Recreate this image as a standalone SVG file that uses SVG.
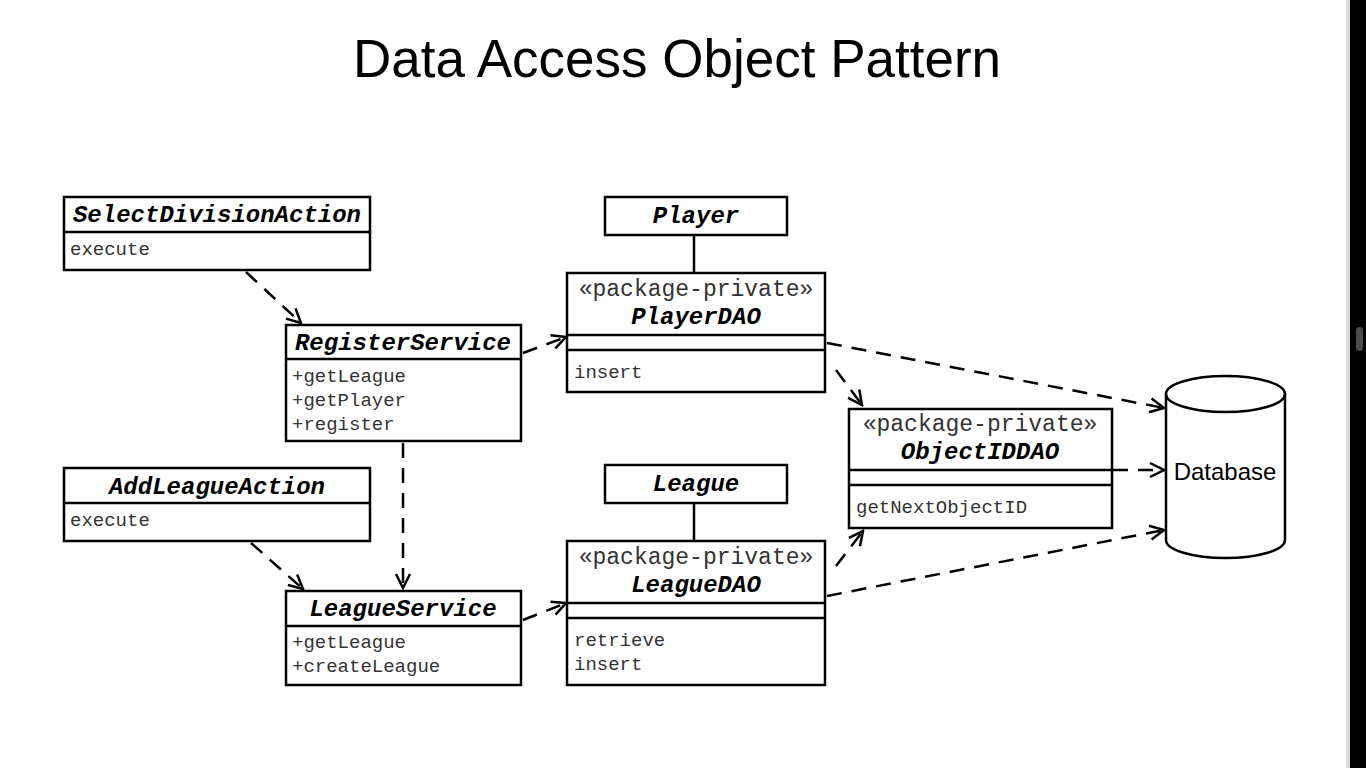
<svg xmlns="http://www.w3.org/2000/svg" width="1366" height="768" viewBox="0 0 1366 768">
<style>
.box{fill:#fff;stroke:#000;stroke-width:2.5}
.ln{stroke:#000;stroke-width:2.5;fill:none}
.t{font-family:"Liberation Mono",monospace;font-size:24px;font-weight:bold;font-style:italic;text-anchor:middle;fill:#000}
.st{font-family:"Liberation Mono",monospace;font-size:23px;text-anchor:middle;fill:#333}
.m{font-family:"Liberation Mono",monospace;font-size:19px;fill:#333}
.dash{stroke:#000;stroke-width:2.5;fill:none;stroke-dasharray:15 10;marker-end:url(#arr)}
</style>
<defs>
<marker id="arr" viewBox="-16 -9 18 18" markerWidth="18" markerHeight="18" refX="0" refY="0" orient="auto" markerUnits="userSpaceOnUse">
<path d="M-14,-7 L0,0 L-14,7" fill="none" stroke="#000" stroke-width="2.5"/>
</marker>
</defs>
<rect width="1366" height="768" fill="#fff"/>
<text x="677" y="77" font-family="Liberation Sans, Arial, sans-serif" font-size="53" text-anchor="middle" fill="#000">Data Access Object Pattern</text>

<g id="connectors">
<path class="dash" d="M246,272 L301,323"/>
<path class="dash" d="M523,353 L566,337"/>
<path class="dash" d="M403,443 L403,588"/>
<path class="dash" d="M251,543 L303,589"/>
<path class="dash" d="M523,620 L566,603"/>
<path class="dash" d="M827,343 L1164,408"/>
<path class="dash" d="M836,370 L862,405"/>
<path class="dash" d="M1113,470 L1164,470"/>
<path class="dash" d="M836,566 L863,531"/>
<path class="dash" d="M827,596 L1164,530"/>
<line class="ln" x1="694" y1="235" x2="694" y2="273"/>
<line class="ln" x1="694" y1="503" x2="694" y2="541"/>
</g>

<g id="SelectDivisionAction">
<rect class="box" x="64" y="197" width="306" height="73"/>
<line class="ln" x1="64" y1="232" x2="370" y2="232"/>
<text class="t" x="217" y="222">SelectDivisionAction</text>
<text class="m" x="70" y="255">execute</text>
</g>

<g id="RegisterService">
<rect class="box" x="286" y="325" width="235" height="116"/>
<line class="ln" x1="286" y1="359" x2="521" y2="359"/>
<text class="t" x="403" y="350">RegisterService</text>
<text class="m" x="292" y="382">+getLeague</text>
<text class="m" x="292" y="406">+getPlayer</text>
<text class="m" x="292" y="430">+register</text>
</g>

<g id="Player">
<rect class="box" x="605" y="197" width="182" height="38"/>
<text class="t" x="696" y="223">Player</text>
</g>

<g id="PlayerDAO">
<rect class="box" x="567" y="273" width="258" height="119"/>
<line class="ln" x1="567" y1="335" x2="825" y2="335"/>
<line class="ln" x1="567" y1="350" x2="825" y2="350"/>
<text class="st" x="696" y="296">«package-private»</text>
<text class="t" x="696" y="324">PlayerDAO</text>
<text class="m" x="574" y="378">insert</text>
</g>

<g id="ObjectIDDAO">
<rect class="box" x="849" y="409" width="263" height="119"/>
<line class="ln" x1="849" y1="470" x2="1112" y2="470"/>
<line class="ln" x1="849" y1="485" x2="1112" y2="485"/>
<text class="st" x="980" y="431">«package-private»</text>
<text class="t" x="980" y="459">ObjectIDDAO</text>
<text class="m" x="856" y="513">getNextObjectID</text>
</g>

<g id="Database">
<path class="box" d="M1166,394 L1166,540 A59.5,18 0 0 0 1285,540 L1285,394 A59.5,18 0 0 0 1166,394 Z"/>
<path class="ln" d="M1166,394 A59.5,18 0 0 0 1285,394"/>
<text x="1225" y="480" font-family="Liberation Sans, Arial, sans-serif" font-size="24" text-anchor="middle" fill="#000">Database</text>
</g>

<g id="AddLeagueAction">
<rect class="box" x="64" y="468" width="306" height="73"/>
<line class="ln" x1="64" y1="503" x2="370" y2="503"/>
<text class="t" x="217" y="494">AddLeagueAction</text>
<text class="m" x="70" y="526">execute</text>
</g>

<g id="League">
<rect class="box" x="605" y="465" width="182" height="38"/>
<text class="t" x="696" y="491">League</text>
</g>

<g id="LeagueDAO">
<rect class="box" x="567" y="541" width="258" height="144"/>
<line class="ln" x1="567" y1="603" x2="825" y2="603"/>
<line class="ln" x1="567" y1="618" x2="825" y2="618"/>
<text class="st" x="696" y="564">«package-private»</text>
<text class="t" x="696" y="592">LeagueDAO</text>
<text class="m" x="574" y="646">retrieve</text>
<text class="m" x="574" y="670">insert</text>
</g>

<g id="LeagueService">
<rect class="box" x="286" y="591" width="235" height="94"/>
<line class="ln" x1="286" y1="626" x2="521" y2="626"/>
<text class="t" x="403" y="616">LeagueService</text>
<text class="m" x="292" y="648">+getLeague</text>
<text class="m" x="292" y="672">+createLeague</text>
</g>

<rect x="1346" y="0" width="4" height="768" fill="#dcdcdc"/>
<rect x="1350" y="0" width="16" height="768" fill="#000"/>
<rect x="1356" y="327" width="7" height="24" rx="3.5" fill="#4a4a4a"/>
</svg>
